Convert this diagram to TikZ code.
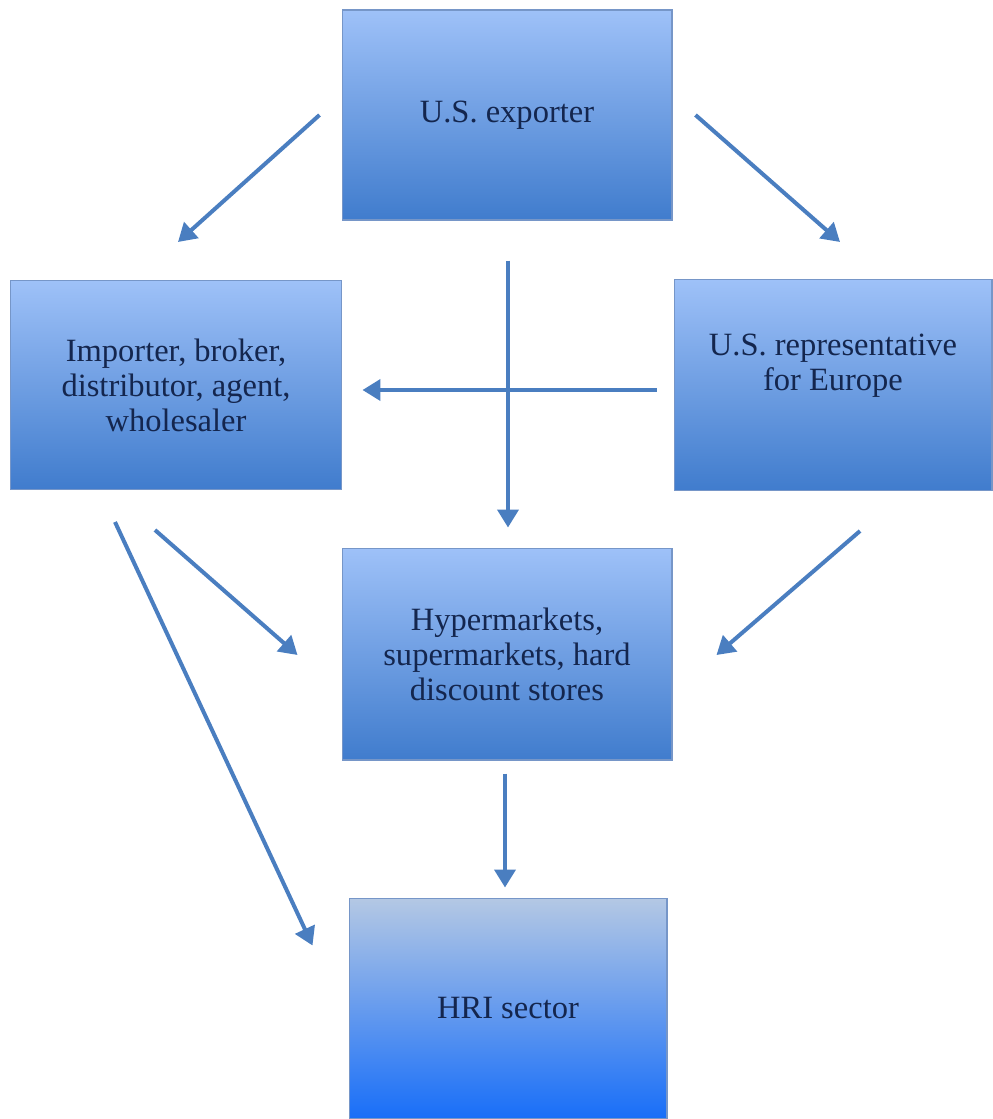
\documentclass[tikz,border=0pt]{standalone}
\usepackage{fontspec}
\setmainfont{Liberation Serif}
\usepackage{tikz}
\usetikzlibrary{arrows.meta, calc}

\definecolor{boxtop}{RGB}{158,193,248}
\definecolor{boxbot}{RGB}{64,124,205}
\definecolor{hritop}{RGB}{180,200,228}
\definecolor{hribot}{RGB}{24,110,248}
\definecolor{boxline}{RGB}{118,150,200}
\definecolor{flowblue}{RGB}{74,126,192}
\definecolor{navytext}{RGB}{20,38,78}

\begin{document}
\begin{tikzpicture}[
  x=0.02cm, y=-0.02cm,
  stage/.style={rectangle, draw=boxline, line width=0.6pt, top color=boxtop, bottom color=boxbot,
    minimum width=6.6cm, minimum height=4.2cm, inner sep=0pt, align=center,
    text=navytext, font=\fontsize{18.5}{19.9}\selectfont},
  flow/.style={->, draw=flowblue, line width=0.08cm},
  >={Triangle[length=0.36cm, width=0.42cm]}
]
  \useasboundingbox (0,0) rectangle (992,1119);

  \node[stage] (exporter) at (507,115) {U.S. exporter};
  \node[stage, minimum width=6.64cm, minimum height=4.18cm] (importer) at (176,385) {Importer, broker,\\distributor, agent,\\wholesaler};
  \node[stage, minimum width=6.36cm, minimum height=4.22cm] (rep) at (833,385) {U.S. representative\\for Europe\\\strut};
  \node[stage, minimum height=4.24cm] (hyper) at (507,654) {Hypermarkets,\\supermarkets, hard\\discount stores};
  \node[stage, top color=hritop, bottom color=hribot, minimum width=6.36cm, minimum height=4.42cm] (hri) at (508,1008.5) {HRI sector};

  \draw[flow] ($(exporter.west)+(-22,0)$) -- ($(importer.north)+(2,-38)$);
  \draw[flow] ($(exporter.east)+(23,0)$) -- ($(rep.north)+(7,-37)$);
  \draw[flow] ($(exporter.south)+(1,40)$) -- ($(hyper.north)+(1,-20)$);
  \draw[flow] ($(rep.west)+(-17,5)$) -- ($(importer.east)+(20,5)$);
  \draw[flow] ($(importer.south)+(-21,40)$) -- ($(hyper.west)+(-44,1)$);
  \draw[flow] ($(importer.south)+(-61,32)$) -- ($(hri.west)+(-36,-63)$);
  \draw[flow] ($(rep.south)+(27,40)$) -- ($(hyper.east)+(44,1)$);
  \draw[flow] ($(hyper.south)+(-2,13)$) -- ($(hri.north)+(-3,-10)$);
\end{tikzpicture}
\end{document}
